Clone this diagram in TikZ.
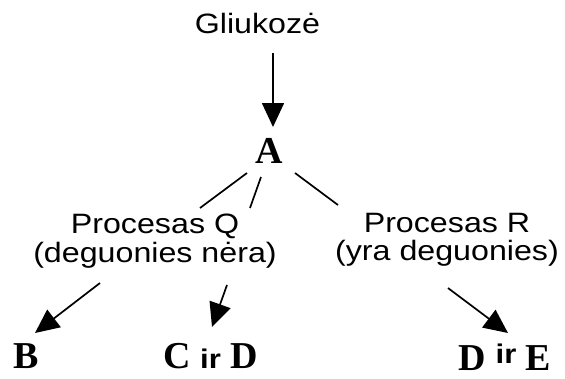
\documentclass[tikz,border=0pt]{standalone}
\usepackage{fontspec}
\setmainfont{Liberation Serif}
\newfontfamily\sans[FakeStretch=1.15]{Liberation Sans}
\usetikzlibrary{arrows.meta}
\begin{document}
\begin{tikzpicture}[x=1bp,y=-1bp,
  proc/.style={font=\sans\fontsize{28bp}{28.5bp}\selectfont, align=center, inner sep=0pt, anchor=base},
  letter/.style={font=\bfseries\fontsize{38bp}{38bp}\selectfont, inner sep=0pt, anchor=base},
  link/.style={line width=1.7bp},
  flow/.style={line width=1.7bp, -{Triangle[length=24bp,width=22bp]}}]
  \useasboundingbox (0,0) rectangle (565,378);
  \newcommand{\irword}{{\sans\bfseries\fontsize{27bp}{27bp}\selectfont ir}}

  % labels (multi-line labels sit on the baseline of their last line)
  \node[proc] (glu) at (257.5,33) {Gliukozė};
  \node[letter] (A) at (269.5,163) {A};
  \node[proc] (Q) at (155,262) {Procesas Q\\(deguonies nėra)};
  \node[proc] (R) at (447,260.5) {Procesas R\\(yra deguonies)};
  \node[letter] (B) at (26,368) {B};
  \node[letter] (CD) at (210.5,368) {C \irword{} D};
  \node[letter] (DE) at (505,370) {D \raisebox{7bp}{\irword} E};

  % connector end points
  \coordinate (glu-out) at (273,53);
  \coordinate (A-in) at (273,127);
  \coordinate (A-q1) at (247,173);
  \coordinate (Q-a1) at (200,208);
  \coordinate (A-q2) at (261,177);
  \coordinate (Q-a2) at (250,208);
  \coordinate (A-r) at (295,173);
  \coordinate (R-a) at (338,205);
  \coordinate (Q-b) at (100,283);
  \coordinate (B-in) at (35,333);
  \coordinate (Q-c) at (227,285);
  \coordinate (CD-in) at (212,327);
  \coordinate (R-d) at (448,288);
  \coordinate (DE-in) at (508,333);

  % connectors
  \draw[flow] (glu-out) -- (A-in);
  \draw[link] (A-q1) -- (Q-a1);
  \draw[link] (A-q2) -- (Q-a2);
  \draw[link] (A-r) -- (R-a);
  \draw[flow] (Q-b) -- (B-in);
  \draw[flow] (Q-c) -- (CD-in);
  \draw[flow] (R-d) -- (DE-in);
\end{tikzpicture}
\end{document}
